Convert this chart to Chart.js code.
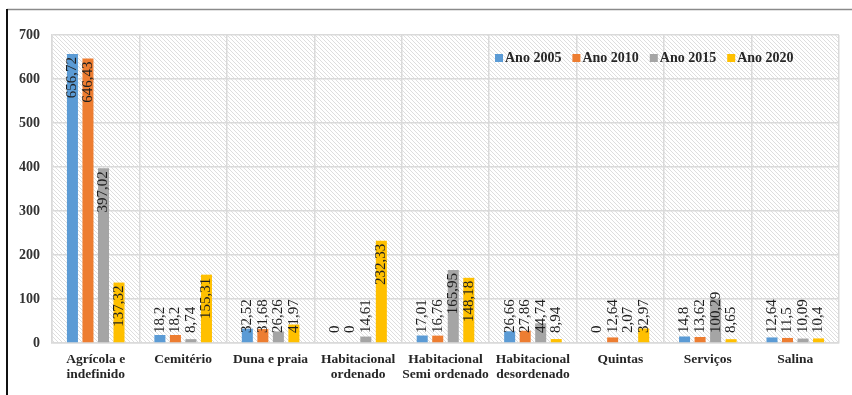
<!DOCTYPE html>
<html>
<head>
<meta charset="utf-8">
<script src="https://cdn.jsdelivr.net/npm/chart.js@4.4.1/dist/chart.umd.min.js"></script>
<style>
  html, body { margin: 0; padding: 0; background: #fff; }
  #wrap { width: 852px; height: 395px; }
</style>
</head>
<body>
<div id="wrap"><canvas id="chart" width="852" height="395"></canvas></div>
<script>
const categories = [
    ['Agrícola e', 'indefinido'],
    'Cemitério',
    'Duna e praia',
    ['Habitacional', 'ordenado'],
    ['Habitacional', 'Semi ordenado'],
    ['Habitacional', 'desordenado'],
    'Quintas',
    'Serviços',
    'Salina'
];
const seriesNames = ['Ano 2005', 'Ano 2010', 'Ano 2015', 'Ano 2020'];
const ano2005 = [656.72, 18.2, 32.52, 0, 17.01, 26.66, 0, 14.8, 12.64];
const ano2010 = [646.43, 18.2, 31.68, 0, 16.76, 27.86, 12.64, 13.62, 11.5];
const ano2015 = [397.02, 8.74, 26.26, 14.61, 165.95, 44.74, 2.07, 100.29, 10.09];
const ano2020 = [137.32, 155.31, 41.97, 232.33, 148.18, 8.94, 32.97, 8.65, 10.4];
const yTicks = [0, 100, 200, 300, 400, 500, 600, 700];

const colors = ['#5b9bd5', '#ed7d31', '#a5a5a5', '#ffc000'];
const serif = '"Liberation Serif", "DejaVu Serif", serif';

// hatched background tile
function makeHatch() {
    const c = document.createElement('canvas');
    c.width = 4; c.height = 4;
    const g = c.getContext('2d');
    g.fillStyle = '#ffffff';
    g.fillRect(0, 0, 4, 4);
    g.strokeStyle = '#dedede';
    g.lineWidth = 1;
    g.beginPath();
    g.moveTo(-1, -1); g.lineTo(5, 5);
    g.moveTo(-1, 3); g.lineTo(1, 5);
    g.moveTo(3, -1); g.lineTo(5, 1);
    g.stroke();
    return c;
}

const backgroundPlugin = {
    id: 'hatchBg',
    beforeDraw(chart) {
        const { ctx, chartArea } = chart;
        ctx.save();
        ctx.fillStyle = ctx.createPattern(makeHatch(), 'repeat');
        ctx.fillRect(chartArea.left, chartArea.top, chartArea.right - chartArea.left, chartArea.bottom - chartArea.top);
        ctx.restore();
    }
};

// vertical value labels, inside the bar end when they fit, else near the base
const valueLabelPlugin = {
    id: 'valueLabels',
    afterDatasetsDraw(chart) {
        const ctx = chart.ctx;
        const base = chart.scales.y.getPixelForValue(0);
        ctx.save();
        ctx.font = '15px ' + serif;
        ctx.fillStyle = '#1f1f1f';
        ctx.textBaseline = 'middle';
        chart.data.datasets.forEach((ds, i) => {
            chart.getDatasetMeta(i).data.forEach((bar, j) => {
                const text = String(ds.data[j]).replace('.', ',');
                const len = ctx.measureText(text).width;
                const h = base - bar.y;
                ctx.save();
                if (h >= len + 8) {
                    ctx.translate(bar.x, bar.y + 3);
                    ctx.rotate(-Math.PI / 2);
                    ctx.textAlign = 'right';
                } else {
                    ctx.translate(bar.x, base - 10);
                    ctx.rotate(-Math.PI / 2);
                    ctx.textAlign = 'left';
                }
                ctx.fillText(text, 0, 0);
                ctx.restore();
            });
        });
        ctx.restore();
    }
};

// legend drawn inside the plot area, top right
const legendPlugin = {
    id: 'innerLegend',
    afterDraw(chart) {
        const ctx = chart.ctx;
        ctx.save();
        ctx.font = 'bold 14px ' + serif;
        ctx.textBaseline = 'middle';
        ctx.textAlign = 'left';
        let x = 495;
        const y = 58;
        chart.data.datasets.forEach(ds => {
            ctx.fillStyle = ds.backgroundColor;
            ctx.fillRect(x, y - 4, 8, 8);
            ctx.fillStyle = '#262626';
            ctx.fillText(ds.label, x + 10, y);
            x += 10 + ctx.measureText(ds.label).width + 11;
        });
        ctx.restore();
    }
};

// frame lines of the figure
const framePlugin = {
    id: 'frame',
    afterDraw(chart) {
        const ctx = chart.ctx;
        ctx.save();
        ctx.strokeStyle = '#8a8a8a';
        ctx.lineWidth = 1.5;
        ctx.beginPath();
        ctx.moveTo(7, 9.5); ctx.lineTo(852, 9.5);
        ctx.stroke();
        ctx.strokeStyle = '#111';
        ctx.lineWidth = 2;
        ctx.beginPath();
        ctx.moveTo(7, 9); ctx.lineTo(7, 395);
        ctx.stroke();
        ctx.restore();
    }
};

const allSeries = [ano2005, ano2010, ano2015, ano2020];

new Chart(document.getElementById('chart').getContext('2d'), {
    type: 'bar',
    data: {
        labels: categories,
        datasets: allSeries.map((vals, i) => ({
            label: seriesNames[i],
            data: vals,
            backgroundColor: colors[i],
            borderWidth: 0,
            barPercentage: 0.71,
            categoryPercentage: 0.71
        }))
    },
    options: {
        responsive: false,
        animation: false,
        devicePixelRatio: 1,
        layout: {
            padding: { left: 0, top: 35, right: 13, bottom: 0 }
        },
        scales: {
            x: {
                grid: {
                    color: '#dadada',
                    lineWidth: 1.5,
                    offset: true,
                    drawTicks: false
                },
                border: { color: '#dadada', width: 1.5 },
                ticks: {
                    color: '#262626',
                    padding: 9,
                    maxRotation: 0,
                    autoSkip: false,
                    font: { family: serif, size: 13.5, weight: 'bold', lineHeight: 1.12 }
                },
                afterFit(scale) { scale.height = 52; }
            },
            y: {
                min: 0,
                max: 700,
                afterBuildTicks(scale) {
                    scale.ticks = yTicks.map(v => ({ value: v }));
                },
                grid: {
                    color: '#dadada',
                    lineWidth: 1.5,
                    drawTicks: false
                },
                border: { color: '#dadada', width: 1.5 },
                ticks: {
                    color: '#333333',
                    padding: 12,
                    font: { family: serif, size: 14, weight: 'bold' }
                },
                afterFit(scale) { scale.width = 52; }
            }
        },
        plugins: {
            legend: { display: false },
            tooltip: { enabled: false }
        }
    },
    plugins: [backgroundPlugin, valueLabelPlugin, legendPlugin, framePlugin]
});
</script>
</body>
</html>
